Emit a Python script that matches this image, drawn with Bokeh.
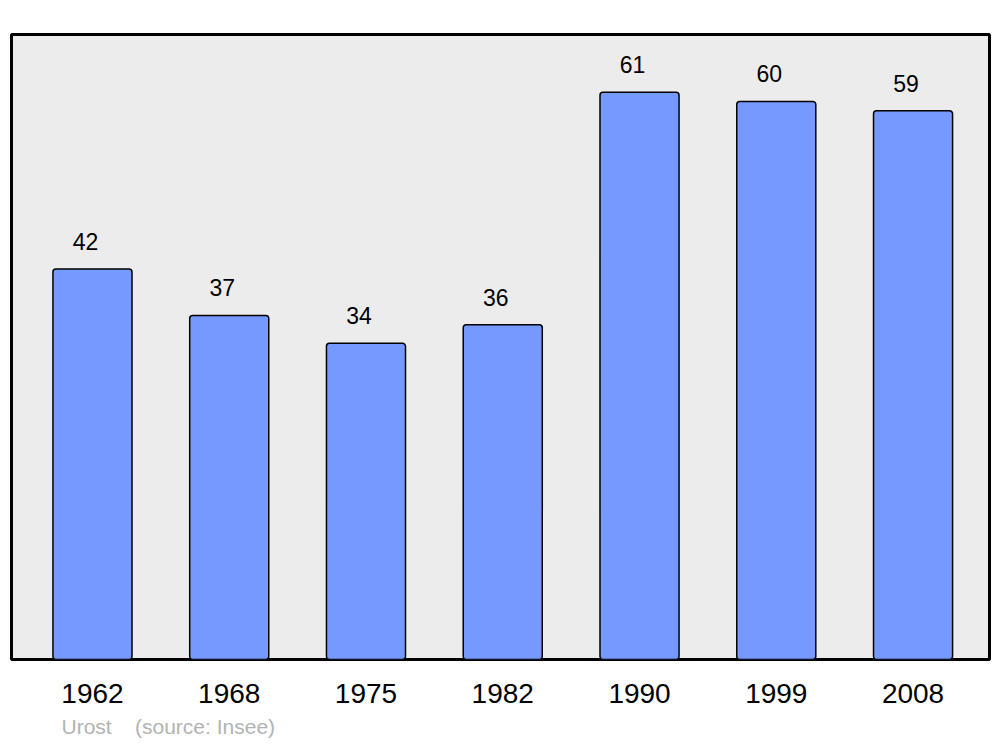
from bokeh.plotting import figure
from bokeh.models import ColumnDataSource, Range1d, FixedTicker, LabelSet, Title
from bokeh.core.properties import value
from bokeh.embed import file_html
from bokeh.resources import INLINE

years = ["1962", "1968", "1975", "1982", "1990", "1999", "2008"]
population = [42, 37, 34, 36, 61, 60, 59]
source_note = "Urost\u00a0\u00a0\u00a0\u00a0(source: Insee)"

idx = list(range(len(years)))
src = ColumnDataSource(dict(x=idx, top=population, lab=[str(v) for v in population]))

p = figure(width=998, height=745, output_backend="svg", toolbar_location=None,
           x_range=Range1d(-0.592, 6.559), y_range=Range1d(0, 67.2),
           min_border_left=11, min_border_right=9, min_border_top=34, min_border_bottom=85)
p.background_fill_color = "#ececec"
p.border_fill_color = "white"
p.outline_line_color = "black"
p.outline_line_width = 3
p.grid.visible = False
p.yaxis.visible = False

p.vbar(x="x", top="top", width=0.578, bottom=0, source=src,
       fill_color="#7599ff", line_color="black", line_width=1.5, border_radius=3)

labels = LabelSet(x="x", y="top", text="lab", source=src, x_offset=-7, y_offset=19,
                  text_align="center", text_baseline="alphabetic",
                  text_font=value("Liberation Sans"), text_font_size=value("23px"),
                  text_color="black")
p.add_layout(labels)

ax = p.xaxis[0]
ax.ticker = FixedTicker(ticks=idx)
ax.major_label_overrides = {i: y for i, y in zip(idx, years)}
ax.axis_line_color = None
ax.major_tick_line_color = None
ax.minor_tick_line_color = None
ax.major_tick_out = 0
ax.major_tick_in = 0
ax.major_label_standoff = 24
ax.major_label_text_font = "Liberation Sans"
ax.major_label_text_font_size = "28px"
ax.major_label_text_color = "black"

p.add_layout(Title(text=source_note, align="left", offset=50, standoff=15,
                   text_font="Liberation Sans", text_font_size="21px",
                   text_font_style="normal", text_color="#b3b3b3"), "below")

open("out.html", "w").write(file_html(p, INLINE))
